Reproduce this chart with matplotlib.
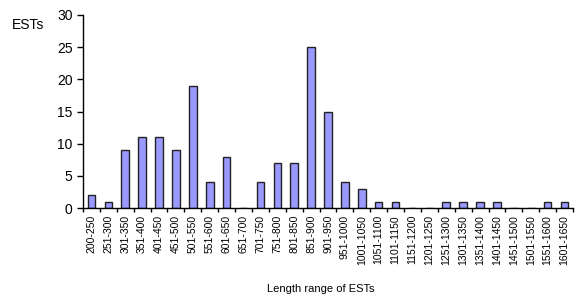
import matplotlib
matplotlib.use("Agg")
import matplotlib.pyplot as plt
import numpy as np

plt.rcParams['font.family'] = ['Liberation Sans', 'DejaVu Sans']

categories = ["200-250", "251-300", "301-350", "351-400", "401-450", "451-500",
              "501-550", "551-600", "601-650", "651-700", "701-750", "751-800",
              "801-850", "851-900", "901-950", "951-1000", "1001-1050", "1051-1100",
              "1101-1150", "1151-1200", "1201-1250", "1251-1300", "1301-1350",
              "1351-1400", "1401-1450", "1451-1500", "1501-1550", "1551-1600",
              "1601-1650"]
values = [2, 1, 9, 11, 11, 9, 19, 4, 8, 0, 4, 7, 7, 25, 15, 4, 3, 1, 1, 0, 0,
          1, 1, 1, 1, 0, 0, 1, 1]
yticks = [0, 5, 10, 15, 20, 25, 30]

fig = plt.figure(figsize=(5.76, 3.01), dpi=100)
ax = fig.add_axes([83/576, 1-208/301, 490/576, 193/301])
x = np.arange(len(categories))
ax.bar(x, values, width=0.45, color='#9999FF', edgecolor='#222222', linewidth=1.0)
ax.set_xlim(-0.5, len(categories) - 0.5)
ax.set_ylim(0, 30)
ax.set_yticks(yticks)
ax.tick_params(axis='y', labelsize=10, length=4, width=1, direction='out', pad=3.5)
ax.set_xticks(np.arange(-0.5, len(categories), 1.0))
ax.set_xticklabels([])
ax.tick_params(axis='x', which='major', length=3, width=1, direction='out')
ax.set_xticks(x, minor=True)
ax.set_xticklabels(categories, minor=True, rotation=90, fontsize=7.5)
ax.tick_params(axis='x', which='minor', length=0, pad=5)
for s in ['top', 'right']:
    ax.spines[s].set_visible(False)
for s in ['left', 'bottom']:
    ax.spines[s].set_linewidth(1.0)
fig.text(12/576, 1-25/301, "ESTs", fontsize=10, va='center', ha='left')
fig.text(321/576, 1-289/301, "Length range of ESTs", fontsize=8, va='center', ha='center')
fig.savefig("out.png", dpi=100)
